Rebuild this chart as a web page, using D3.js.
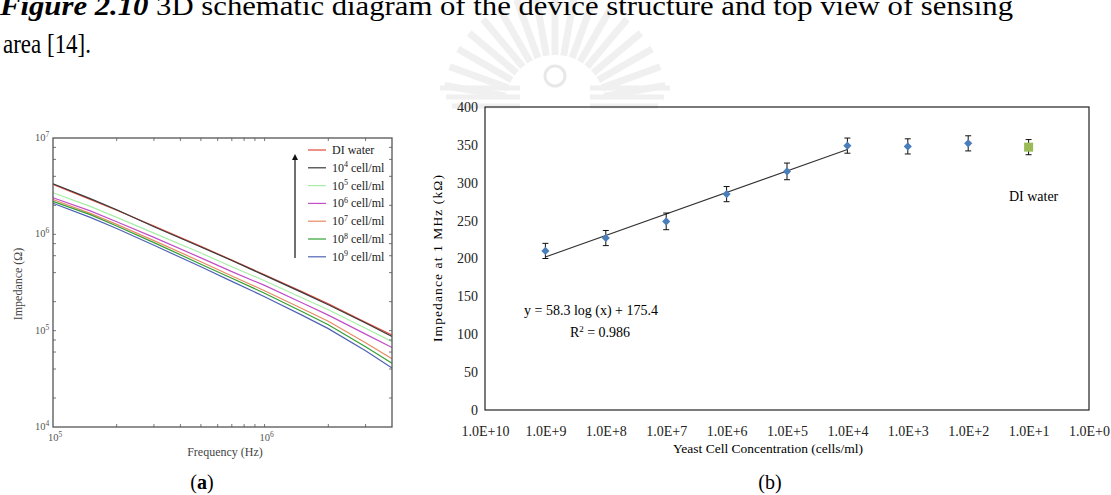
<!DOCTYPE html>
<html lang="en">
<head>
    <meta charset="UTF-8">
    <title>Impedance vs frequency and yeast concentration - D3.js</title>
    <script src="https://d3js.org/d3.v7.min.js"></script>
    <style>
        body { margin: 0; background: #fff; }
        svg text { font-family: "Liberation Serif", "Times New Roman", Times, serif !important; }
        .tickA { font-size: 10.5px; fill: #555; }
        .tickB { font-size: 14px; fill: #222; }
    </style>
</head>
<body>
<svg width="1111" height="495" font-family="Liberation Serif"></svg>
<script>
    // ---- panel (a): impedance spectra ----
    const freqA = [1e5, 1.5e5, 2e5, 3e5, 5e5, 7e5, 1e6, 1.5e6, 2e6, 3e6, 4e6];
    const zDI   = [3.3e6, 2.3e6, 1.78e6, 1.22e6, 7.5e5, 5.4e5, 3.8e5, 2.55e5, 1.9e5, 1.22e5, 9.0e4];
    const z1e4  = [3.35e6, 2.35e6, 1.8e6, 1.2e6, 7.4e5, 5.35e5, 3.75e5, 2.5e5, 1.86e5, 1.2e5, 8.7e4];
    const z1e5  = [2.7e6, 1.95e6, 1.5e6, 1.03e6, 6.4e5, 4.6e5, 3.3e5, 2.2e5, 1.65e5, 1.06e5, 7.7e4];
    const z1e6  = [2.4e6, 1.75e6, 1.35e6, 9.3e5, 5.7e5, 4.1e5, 2.95e5, 1.95e5, 1.45e5, 9.2e4, 6.7e4];
    const z1e7  = [2.3e6, 1.65e6, 1.27e6, 8.6e5, 5.2e5, 3.7e5, 2.6e5, 1.7e5, 1.25e5, 7.5e4, 5.1e4];
    const z1e8  = [2.2e6, 1.6e6, 1.22e6, 8.2e5, 4.9e5, 3.5e5, 2.45e5, 1.58e5, 1.15e5, 6.8e4, 4.6e4];
    const z1e9  = [2.1e6, 1.5e6, 1.15e6, 7.7e5, 4.6e5, 3.25e5, 2.25e5, 1.45e5, 1.05e5, 6.2e4, 4.1e4];
    const seriesA = [zDI, z1e4, z1e5, z1e6, z1e7, z1e8, z1e9];
    const legendExp = [null, 4, 5, 6, 7, 8, 9];
    const colorsA = ["#e24a3b", "#3a3a3a", "#a6eea6", "#c14fc8", "#e88a62", "#33a033", "#4f63b5"];

    // ---- panel (b): impedance at 1 MHz ----
    const concB = [1e9, 1e8, 1e7, 1e6, 1e5, 1e4, 1e3, 1e2];
    const impB  = [210, 227, 249, 285, 315, 349, 348, 352];
    const errB  = [10, 10, 11, 10, 11, 10, 10, 10];
    const diConc = 1e1, diImp = 347, diErr = 10;
    const trendConc = [1e9, 1e4];
    const trendImp  = [202, 344];
    const yTicksB = [0, 50, 100, 150, 200, 250, 300, 350, 400];
    const xTicksB = [1e10, 1e9, 1e8, 1e7, 1e6, 1e5, 1e4, 1e3, 1e2, 1e1, 1e0];

    const svg = d3.select("svg");

    // faint watermark (behind everything)
    const wm = svg.append("g").attr("stroke", "#f0f0f0").attr("fill", "none");
    d3.range(-80, 81, 10).forEach(a => {
        const r = a * Math.PI / 180;
        wm.append("line")
            .attr("x1", 555 + 50 * Math.sin(r)).attr("y1", 105 - 50 * Math.cos(r))
            .attr("x2", 555 + 112 * Math.sin(r)).attr("y2", 105 - 112 * Math.cos(r))
            .attr("stroke-width", 7);
    });
    [88, 97, 106].forEach((y, i) => {
        wm.append("line").attr("x1", 440 + i * 6).attr("x2", 520).attr("y1", y).attr("y2", y).attr("stroke-width", 5);
        wm.append("line").attr("x1", 590).attr("x2", 670 - i * 6).attr("y1", y).attr("y2", y).attr("stroke-width", 5);
    });
    wm.append("circle").attr("cx", 555).attr("cy", 76).attr("r", 10).attr("stroke-width", 3).attr("stroke", "#e8e8e8");

    // caption (first line clipped by the page top)
    svg.append("text")
        .attr("x", 0).attr("y", 15)
        .attr("textLength", 1013).attr("lengthAdjust", "spacingAndGlyphs")
        .style("font-size", "28px")
        .call(t => {
            t.append("tspan").style("font-weight", "bold").style("font-style", "italic").text("Figure 2.10");
            t.append("tspan").text(" 3D schematic diagram of the device structure and top view of sensing");
        });
    svg.append("text").attr("x", 3).attr("y", 53)
        .attr("textLength", 88).attr("lengthAdjust", "spacingAndGlyphs")
        .style("font-size", "28px").text("area [14].");

    // ================= panel (a) =================
    const xA = d3.scaleLog().domain([1e5, 4e6]).range([53, 392]);
    const yA = d3.scaleLog().domain([1e4, 1e7]).range([427, 138]);
    const gA = svg.append("g");

    const lineA = d3.line().x((d, i) => xA(freqA[i])).y(d => yA(d));
    gA.selectAll(".spec")
        .data(seriesA)
        .enter().append("path")
        .attr("class", "spec")
        .attr("d", lineA)
        .attr("fill", "none")
        .attr("stroke", (d, i) => colorsA[i])
        .attr("stroke-width", 1.2);

    // minor ticks inside frame
    const xMinor = [2e5, 3e5, 4e5, 5e5, 6e5, 7e5, 8e5, 9e5, 2e6, 3e6];
    xMinor.concat([1e6]).forEach(f => {
        gA.append("line").attr("x1", xA(f)).attr("x2", xA(f)).attr("y1", 427).attr("y2", 424).attr("stroke", "#777");
        gA.append("line").attr("x1", xA(f)).attr("x2", xA(f)).attr("y1", 138).attr("y2", 141).attr("stroke", "#777");
    });
    const yMinor = [];
    [1e4, 1e5, 1e6].forEach(b => [2, 4, 6, 8].forEach(m => yMinor.push(b * m)));
    yMinor.concat([1e5, 1e6]).forEach(v => {
        gA.append("line").attr("x1", 53).attr("x2", 56).attr("y1", yA(v)).attr("y2", yA(v)).attr("stroke", "#777");
        gA.append("line").attr("x1", 392).attr("x2", 389).attr("y1", yA(v)).attr("y2", yA(v)).attr("stroke", "#777");
    });

    gA.append("rect").attr("x", 53).attr("y", 138).attr("width", 339).attr("height", 289)
        .attr("fill", "none").attr("stroke", "#555").attr("stroke-width", 1.3);

    function pow10(sel, exp) {
        sel.append("tspan").text("10");
        sel.append("tspan").attr("dy", -4).style("font-size", "7.5px").text(exp);
    }
    [1e4, 1e5, 1e6, 1e7].forEach(v => {
        gA.append("text").attr("class", "tickA").attr("x", 35).attr("y", yA(v) + 3)
            .call(t => pow10(t, Math.round(Math.log10(v))));
    });
    [1e5, 1e6].forEach(v => {
        gA.append("text").attr("class", "tickA").attr("x", xA(v) - 5).attr("y", 441)
            .call(t => pow10(t, Math.round(Math.log10(v))));
    });
    gA.append("text").attr("x", 225).attr("y", 456).attr("text-anchor", "middle")
        .style("font-size", "12px").style("fill", "#444").text("Frequency (Hz)");
    gA.append("text").attr("transform", "translate(22,284) rotate(-90)").attr("text-anchor", "middle")
        .style("font-size", "12px").style("fill", "#444").text("Impedance (Ω)");

    // legend
    const leg = gA.append("g");
    seriesA.forEach((s, i) => {
        const y = 150 + i * 17.8;
        leg.append("line").attr("x1", 308).attr("x2", 326).attr("y1", y).attr("y2", y)
            .attr("stroke", colorsA[i]).attr("stroke-width", 1.2);
        const t = leg.append("text").attr("x", 332).attr("y", y + 4).style("font-size", "12px").style("fill", "#222");
        if (legendExp[i] === null) t.text("DI water");
        else {
            t.append("tspan").text("10");
            t.append("tspan").attr("dy", -4.5).style("font-size", "8px").text(legendExp[i]);
            t.append("tspan").attr("dy", 4.5).text(" cell/ml");
        }
    });
    svg.append("defs").append("marker").attr("id", "arr")
        .attr("viewBox", "0 0 10 10").attr("refX", 5).attr("refY", 5)
        .attr("markerWidth", 5).attr("markerHeight", 7).attr("orient", "auto")
        .append("path").attr("d", "M0,0 L10,5 L0,10 z").attr("fill", "#111");
    leg.append("line").attr("x1", 295).attr("x2", 295).attr("y1", 258).attr("y2", 157)
        .attr("stroke", "#111").attr("stroke-width", 1.2).attr("marker-end", "url(#arr)");

    svg.append("text").attr("x", 202).attr("y", 489).attr("text-anchor", "middle").style("font-size", "20px")
        .call(t => { t.append("tspan").text("("); t.append("tspan").style("font-weight", "bold").text("a"); t.append("tspan").text(")"); });

    // ================= panel (b) =================
    const xB = d3.scaleLog().domain([1e10, 1]).range([485, 1089]);
    const yB = d3.scaleLinear().domain([0, 400]).range([410, 107]);
    const gB = svg.append("g");

    gB.append("rect").attr("x", 485).attr("y", 107).attr("width", 604).attr("height", 303)
        .attr("fill", "none").attr("stroke", "#222").attr("stroke-width", 1.2);

    const yAxisB = d3.axisLeft(yB).tickValues(yTicksB).tickSize(0).tickPadding(7);
    gB.append("g").attr("transform", "translate(485,0)").call(yAxisB)
        .call(g => g.select(".domain").remove())
        .call(g => g.selectAll("text").attr("class", "tickB"));
    const xAxisB = d3.axisBottom(xB).tickValues(xTicksB).tickSize(0).tickPadding(16)
        .tickFormat(d => "1.0E+" + Math.round(Math.log10(d)));
    gB.append("g").attr("transform", "translate(0,410)").call(xAxisB)
        .call(g => g.select(".domain").remove())
        .call(g => g.selectAll("text").attr("class", "tickB"));

    // trendline
    gB.append("line")
        .attr("x1", xB(trendConc[0])).attr("y1", yB(trendImp[0]))
        .attr("x2", xB(trendConc[1])).attr("y2", yB(trendImp[1]))
        .attr("stroke", "#333").attr("stroke-width", 1.1);

    // error bars
    const allC = concB.concat([diConc]), allI = impB.concat([diImp]), allE = errB.concat([diErr]);
    allC.forEach((c, i) => {
        const x = xB(c), y1 = yB(allI[i] - allE[i]), y2 = yB(allI[i] + allE[i]);
        gB.append("line").attr("x1", x).attr("x2", x).attr("y1", y1).attr("y2", y2).attr("stroke", "#111");
        [y1, y2].forEach(y => gB.append("line").attr("x1", x - 3).attr("x2", x + 3).attr("y1", y).attr("y2", y).attr("stroke", "#111"));
    });

    gB.selectAll(".pt")
        .data(concB)
        .enter().append("path")
        .attr("class", "pt")
        .attr("d", d3.symbol().type(d3.symbolDiamond2).size(42))
        .attr("transform", (d, i) => `translate(${xB(d)},${yB(impB[i])})`)
        .attr("fill", "#4a7ebb");
    gB.append("rect").attr("x", xB(diConc) - 4.5).attr("y", yB(diImp) - 4.5).attr("width", 9).attr("height", 9)
        .attr("fill", "#9bbb59");

    gB.append("text").attr("x", xB(diConc) + 5).attr("y", yB(diImp) + 54).attr("text-anchor", "middle")
        .style("font-size", "14px").text("DI water");
    gB.append("text").attr("x", 591).attr("y", 315).attr("text-anchor", "middle")
        .style("font-size", "14px").text("y = 58.3 log (x) + 175.4");
    gB.append("text").attr("x", 600).attr("y", 337).attr("text-anchor", "middle")
        .style("font-size", "14px")
        .call(t => { t.append("tspan").text("R"); t.append("tspan").attr("dy", -5).style("font-size", "9px").text("2"); t.append("tspan").attr("dy", 5).text(" = 0.986"); });

    gB.append("text").attr("transform", "translate(442,258) rotate(-90)").attr("text-anchor", "middle")
        .style("font-size", "13.5px").style("letter-spacing", "1.1px").text("Impedance at 1 MHz (kΩ)");
    gB.append("text").attr("x", 768).attr("y", 453).attr("text-anchor", "middle")
        .style("font-size", "13.5px").text("Yeast Cell Concentration (cells/ml)");
    svg.append("text").attr("x", 770).attr("y", 489).attr("text-anchor", "middle").style("font-size", "20px").text("(b)");
</script>
</body>
</html>
